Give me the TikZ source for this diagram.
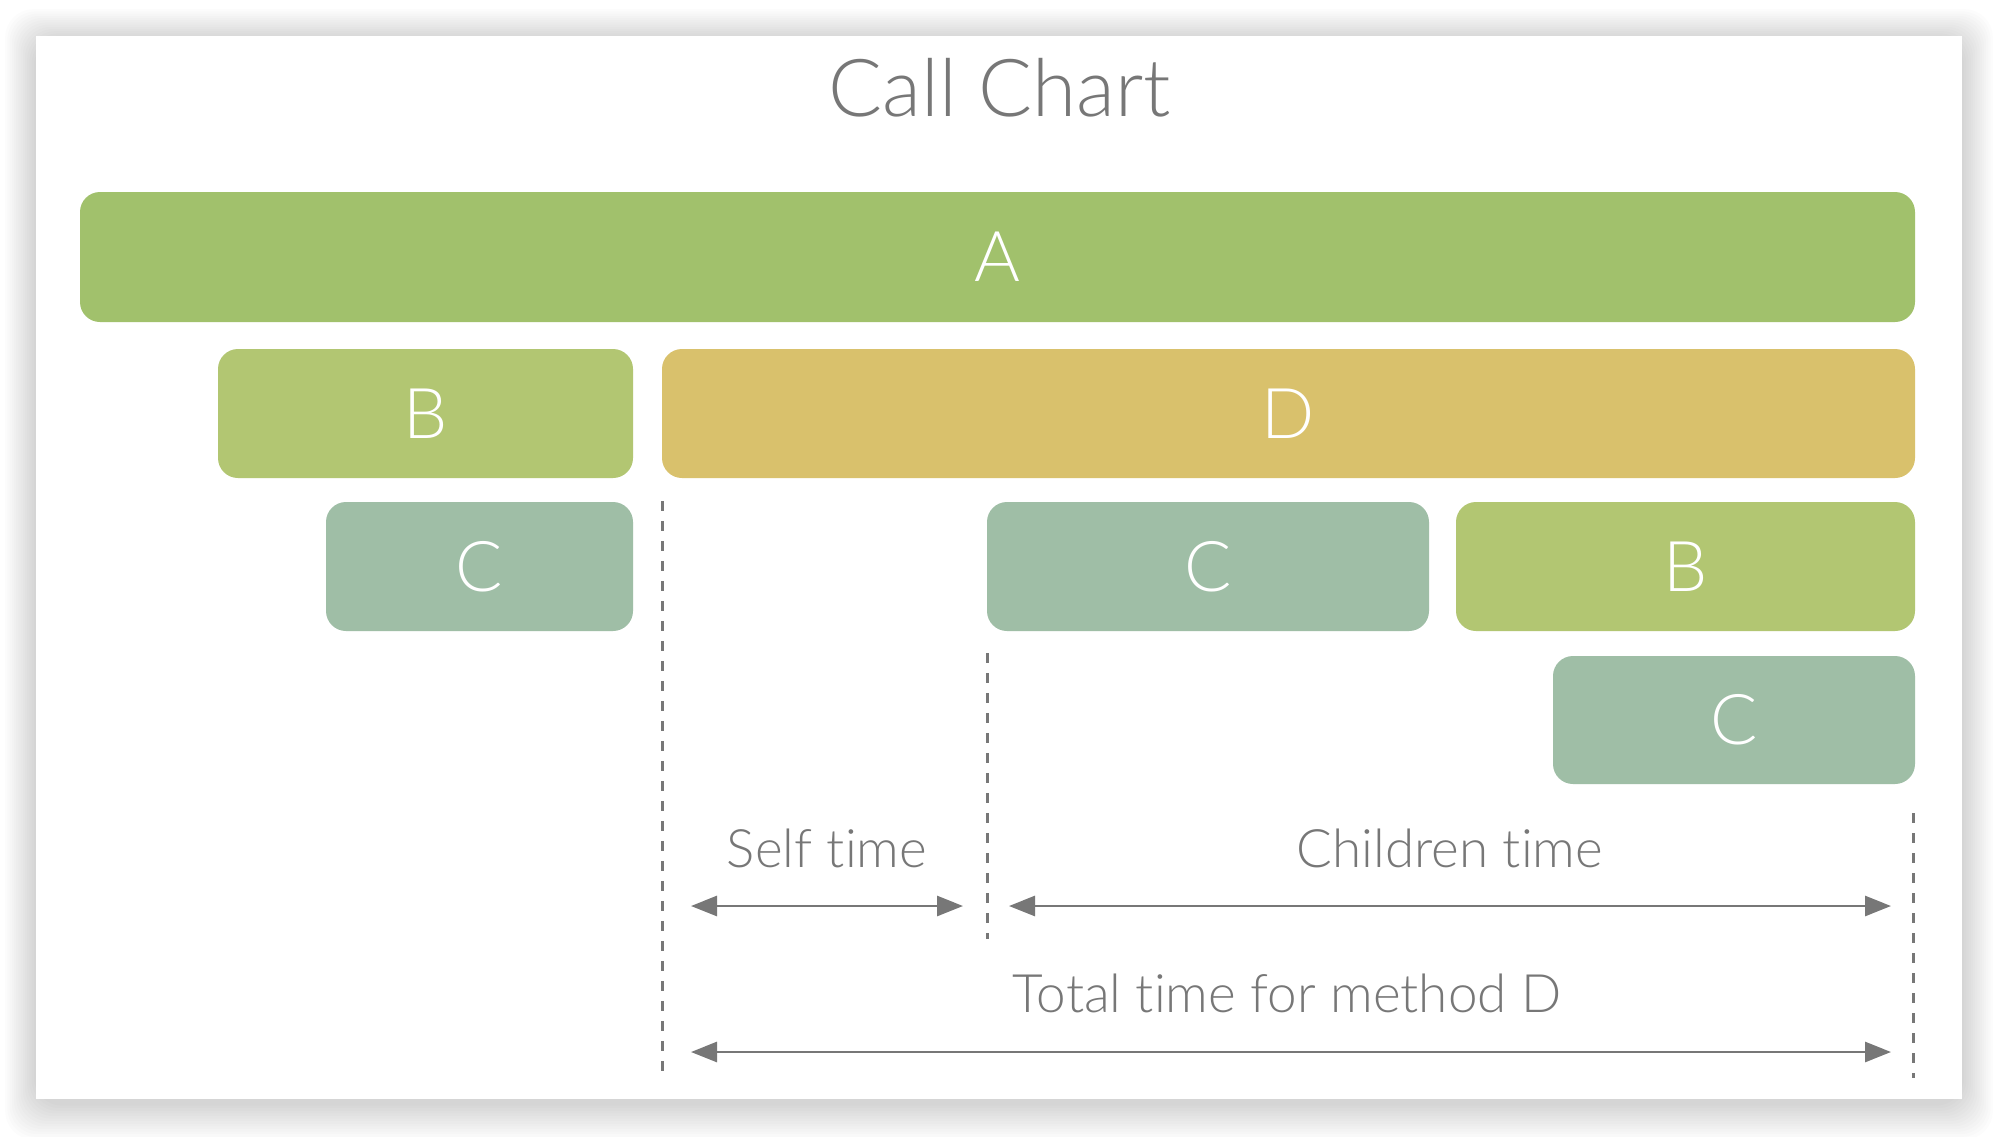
\documentclass[tikz,border=0pt]{standalone}
\usepackage{fontspec}
\setmainfont{Lato Light}[Ligatures=NoCommon]
\usetikzlibrary{arrows.meta}

\definecolor{colA}{HTML}{A1C16C}
\definecolor{colB}{HTML}{B2C672}
\definecolor{colC}{HTML}{9FBEA6}
\definecolor{colD}{HTML}{D9C16C}
\definecolor{txtgray}{HTML}{777777}

\tikzset{
  bar/.style={rectangle,rounded corners=10pt,inner sep=0pt,text=white,
    font=\fontsize{35}{40}\selectfont,minimum height=64.5pt},
  barw/.style={minimum width=#1*0.5pt},
  lbl/.style={anchor=base,text=txtgray,font=\fontsize{26.5}{30}\selectfont},
  span/.style={{Triangle[length=13pt,width=10pt]}-{Triangle[length=13pt,width=10pt]},
    draw=txtgray,fill=txtgray,line width=1.4pt},
  limit/.style={draw=txtgray,line width=1.5pt,dash pattern=on 5pt off 5pt}
}

\begin{document}
\begin{tikzpicture}[x=0.5pt,y=-0.5pt]
  \useasboundingbox (0,0) rectangle (1998,1136);
  \fill[white] (0,0) rectangle (1998,1136);
  % shadow round the card
  \foreach \i in {1,...,14}
    \fill[black,opacity=0.01,rounded corners=14pt]
      (36-2.2*\i,36+4-2.2*\i) rectangle (1962+2.2*\i,1099+4+2.6*\i);
  \fill[white] (36,36) rectangle (1962,1099);

  \node (title) [anchor=base,text=txtgray,font=\fontsize{40}{46}\selectfont] at (1000,116) {Call Chart};

  \path (997.5,257) node(barA) [bar,barw=1835,fill=colA,minimum height=65pt] {A}
    (425.5,413.5) node(barB) [bar,barw=415,fill=colB] {B}
    (1288.5,413.5) node(barD) [bar,barw=1253,fill=colD] {D}
    (479.5,566.5) node(barCa) [bar,barw=307,fill=colC] {C}
    (1208,566.5) node(barCb) [bar,barw=442,fill=colC] {C}
    (1685.5,566.5) node(barBb) [bar,barw=459,fill=colB] {B}
    (1734,720) node(barCc) [bar,barw=362,fill=colC,minimum height=64pt] {C};

  % dashed markers
  \coordinate (dStartTop) at (662,501);
  \coordinate (dStartBot) at (662,1078);
  \coordinate (dMidTop) at (987,653);
  \coordinate (dMidBot) at (987,939);
  \coordinate (dEndTop) at (1913,813);
  \coordinate (dEndBot) at (1913,1078);
  \draw[limit] (dStartTop) -- (dStartBot);
  \draw[limit] (dMidTop) -- (dMidBot);
  \draw[limit] (dEndTop) -- (dEndBot);

  \coordinate (selfL) at (691,906);
  \coordinate (selfR) at (963,906);
  \coordinate (childL) at (1009,906);
  \coordinate (childR) at (1891,906);
  \coordinate (totL) at (691,1052);
  \coordinate (totR) at (1891,1052);
  \draw[span] (selfL) -- (selfR);
  \draw[span] (childL) -- (childR);
  \draw[span] (totL) -- (totR);

  \node (self) [lbl] at (827,867) {Self time};
  \node (child) [lbl] at (1450,867) {Children time};
  \node (total) [lbl] at (1287,1012) {Total time for method D};
\end{tikzpicture}
\end{document}
